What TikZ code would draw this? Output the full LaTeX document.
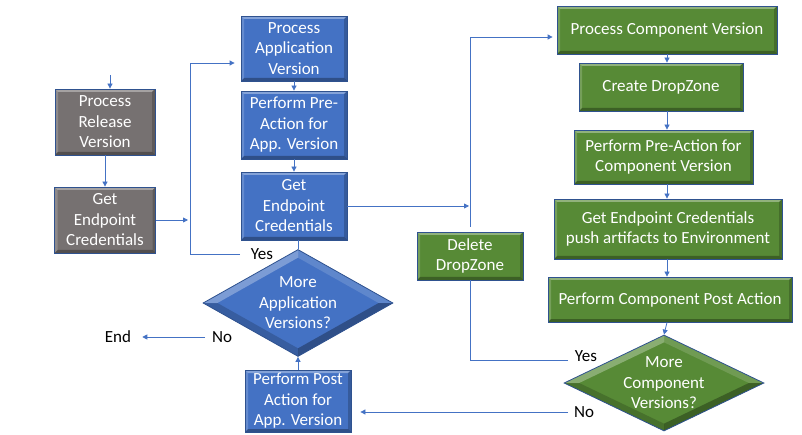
\documentclass[tikz,border=0pt]{standalone}
\usepackage{fontspec}
\setmainfont{Carlito}
\usetikzlibrary{shapes.geometric,arrows.meta,calc}
\definecolor{bfill}{HTML}{4472C4}
\definecolor{bline}{HTML}{2F528F}
\definecolor{gfill}{HTML}{578A36}
\definecolor{gyfill}{HTML}{767171}
\definecolor{conn}{HTML}{4472C4}
\tikzset{
  x=1pt, y=-1pt,
  bevel/.style={path picture={
    \path (path picture bounding box.north west) coordinate (bnw)
          (path picture bounding box.north east) coordinate (bne)
          (path picture bounding box.south west) coordinate (bsw)
          (path picture bounding box.south east) coordinate (bse);
    \fill[white,opacity=.35] (bnw) -- (bne) -- ($(bne)+(-3pt,-3pt)$) -- ($(bnw)+(3pt,-3pt)$) -- cycle;
    \fill[white,opacity=.18] (bnw) -- (bsw) -- ($(bsw)+(3pt,3pt)$) -- ($(bnw)+(3pt,-3pt)$) -- cycle;
    \fill[black,opacity=.30] (bsw) -- (bse) -- ($(bse)+(-3pt,3pt)$) -- ($(bsw)+(3pt,3pt)$) -- cycle;
    \fill[black,opacity=.20] (bne) -- (bse) -- ($(bse)+(-3pt,3pt)$) -- ($(bne)+(-3pt,-3pt)$) -- cycle;
  }},
  dbevel/.style={path picture={
    \path (path picture bounding box.center) coordinate (dc)
          (path picture bounding box.north) coordinate (dn)
          (path picture bounding box.east) coordinate (de)
          (path picture bounding box.south) coordinate (ds)
          (path picture bounding box.west) coordinate (dw);
    \path ($(dc)!0.85!(dn)$) coordinate (in) ($(dc)!0.85!(de)$) coordinate (ie)
          ($(dc)!0.85!(ds)$) coordinate (is) ($(dc)!0.85!(dw)$) coordinate (iw);
    \fill[white,opacity=.30] (dw) -- (dn) -- (in) -- (iw) -- cycle;
    \fill[white,opacity=.15] (dn) -- (de) -- (ie) -- (in) -- cycle;
    \fill[black,opacity=.30] (de) -- (ds) -- (is) -- (ie) -- cycle;
    \fill[black,opacity=.18] (ds) -- (dw) -- (iw) -- (is) -- cycle;
  }},
  box/.style={rectangle, draw=bline, line width=0.8pt, text=white, align=center,
    inner sep=0pt, font=\fontsize{17}{20.5}\selectfont, bevel},
  graybox/.style={box, fill=gyfill},
  bluebox/.style={box, fill=bfill},
  greenbox/.style={box, fill=gfill},
  dia/.style={diamond, draw=bline, line width=0.8pt, inner sep=0pt, dbevel},
  dtext/.style={text=white, align=center, inner sep=0pt, font=\fontsize{17}{20.5}\selectfont},
  lbl/.style={inner sep=0pt, font=\fontsize{17}{20.5}\selectfont},
  ln/.style={draw=conn, line width=0.8pt},
  arr/.style={ln, -{Triangle[length=5pt,width=5pt]}},
}
\begin{document}
\begin{tikzpicture}
\useasboundingbox (0,0) rectangle (802,435);
% gray
\node[graybox, minimum width=100pt, minimum height=66pt] (prv) at (105,122) {Process\\Release\\Version};
\node[graybox, minimum width=101pt, minimum height=66pt] (gec) at (105,220) {Get\\Endpoint\\Credentials};
% blue
\node[bluebox, minimum width=106pt, minimum height=65pt] (pav) at (294,48.5) {Process\\Application\\Version};
\node[bluebox, minimum width=106pt, minimum height=68pt] (ppa) at (294,125) {Perform Pre-\\Action for\\App. Version};
\node[bluebox, minimum width=106pt, minimum height=68pt] (gecb) at (294,206) {Get\\Endpoint\\Credentials};
\node[dia, fill=bfill, minimum width=190pt, minimum height=107pt,
  label={[dtext]center:{More\\Application\\Versions?}}] (dia1) at (298,303) {};
\node[bluebox, minimum width=106pt, minimum height=62pt] (ppost) at (298,401) {Perform Post\\Action for\\App. Version};
% green
\node[greenbox, minimum width=220pt, minimum height=48pt] (pcv) at (667,30) {Process Component Version};
\node[greenbox, minimum width=164pt, minimum height=48pt] (cdz) at (661,87) {Create DropZone};
\node[greenbox, minimum width=179pt, minimum height=54pt] (ppc) at (663.5,157) {Perform Pre-Action for\\Component Version};
\node[greenbox, minimum width=228pt, minimum height=60pt] (gep) at (668,229) {Get Endpoint Credentials\\push artifacts to Environment};
\node[greenbox, minimum width=244pt, minimum height=45pt] (pcpa) at (670,299.5) {Perform Component Post Action};
\node[dia, fill=gfill, minimum width=200pt, minimum height=96pt,
  label={[dtext]center:{More\\Component\\Versions?}}] (dia2) at (664,383) {};
\node[greenbox, minimum width=106pt, minimum height=48pt] (ddz) at (470,256) {Delete\\DropZone};
% labels
\node[lbl] (yes1) at (262,254) {Yes};
\node[lbl] (no1) at (222,337) {No};
\node[lbl] (endn) at (118,337) {End};
\node[lbl] (yes2) at (586,356) {Yes};
\node[lbl] (no2) at (584,412) {No};
% coordinates
\coordinate (start) at (110,75);
\coordinate (y1) at (240,254);
\coordinate (n1) at (205,337);
\coordinate (y2) at (568,360);
\coordinate (n2) at (568,412);
\coordinate (gx) at (667,0);
% connectors left
\draw[arr] (start) -- (start |- prv.north);
\draw[arr] (prv.south) -- (gec.north);
\draw[arr] (gec.east) -- (188,220);
\draw[arr] (y1) -- (190,254) -- (190,63) -- ([xshift=-6pt]pav.west |- 0,63);
\draw[arr] (pav) -- (ppa);
\draw[arr] (ppa) -- (gecb);
\draw[ln] (gecb.south -| dia1.north) -- (dia1.north);
\draw[arr] (n1) -- ([xshift=11pt]endn.east);
\draw[arr] (ppost.north) -- (dia1.south);
% connectors middle
\draw[arr] (gecb.east) -- ([xshift=-1pt]ddz.north |- gecb.east);
\draw[arr] ([yshift=5pt]ddz.north) -- (ddz.north |- 0,37) -- ([xshift=-4pt]pcv.west |- 0,37);
\draw[ln] (y2) -| (ddz.south);
\draw[arr] (n2) -- ([xshift=9pt]ppost.east |- n2);
% green chain
\draw[arr] (gx |- pcv.south) -- (gx |- cdz.north);
\draw[arr] (gx |- cdz.south) -- (gx |- ppc.north);
\draw[arr] (gx |- ppc.south) -- (gx |- gep.north);
\draw[arr] (gx |- gep.south) -- (gx |- pcpa.north);
\draw[arr] (gx |- pcpa.south) -- (dia2.north);
\end{tikzpicture}
\end{document}
